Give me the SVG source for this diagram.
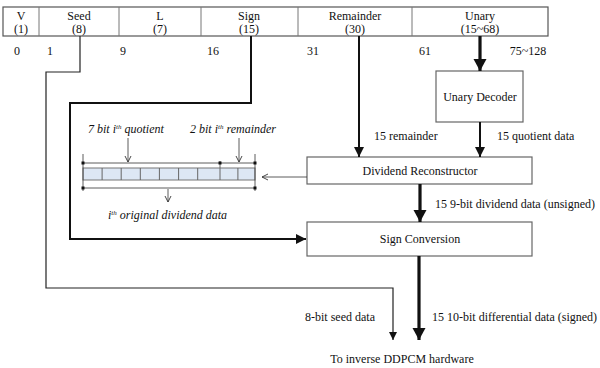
<svg xmlns="http://www.w3.org/2000/svg" width="600" height="368" viewBox="0 0 600 368">
  <style>
    text { font-family: "Liberation Serif", "Times New Roman", "DejaVu Serif", serif; font-size: 12px; fill: #111; }
    .c { text-anchor: middle; }
    .it { font-style: italic; }
    .sup { font-size: 7px; font-style: italic; }
    .box { fill: #fff; stroke: #666; stroke-width: 1.2; }
    .cell { fill: none; stroke: #666; stroke-width: 1; }
    .w1 { fill: none; stroke: #222; stroke-width: 1.2; }
    .w2 { fill: none; stroke: #111; stroke-width: 2; }
    .w3 { fill: none; stroke: #111; stroke-width: 3.2; }
    .thin { fill: none; stroke: #333; stroke-width: 0.8; }
  </style>
  <defs>
    <marker id="aSmall" markerUnits="userSpaceOnUse" markerWidth="9" markerHeight="9" refX="8" refY="4.5" orient="auto">
      <path d="M0,0.5 L8,4.5 L0,8.5 Z" fill="#111"/>
    </marker>
    <marker id="aMid" markerUnits="userSpaceOnUse" markerWidth="11" markerHeight="11" refX="10" refY="5.5" orient="auto">
      <path d="M0,0.5 L10,5.5 L0,10.5 Z" fill="#111"/>
    </marker>
    <marker id="aBig" markerUnits="userSpaceOnUse" markerWidth="13" markerHeight="14" refX="12" refY="7" orient="auto">
      <path d="M0,0.5 L12,7 L0,13.5 Z" fill="#111"/>
    </marker>
    <marker id="aTiny" markerUnits="userSpaceOnUse" markerWidth="8" markerHeight="8" refX="6" refY="4" orient="auto">
      <path d="M0,1 L6,4 L0,7" fill="none" stroke="#333" stroke-width="0.9"/>
    </marker>
    <marker id="dot" markerUnits="userSpaceOnUse" markerWidth="4" markerHeight="4" refX="2" refY="2">
      <rect x="0.5" y="0.5" width="3" height="3" fill="#111"/>
    </marker>
  </defs>

  <!-- Bit-field header -->
  <g id="header">
    <rect x="3" y="7" width="545" height="29" fill="#fff" stroke="#555" stroke-width="1.2"/>
    <g stroke="#777" stroke-width="1">
      <line x1="39" y1="7" x2="39" y2="36"/>
      <line x1="119" y1="7" x2="119" y2="36"/>
      <line x1="201" y1="7" x2="201" y2="36"/>
      <line x1="298" y1="7" x2="298" y2="36"/>
      <line x1="412" y1="7" x2="412" y2="36"/>
    </g>
    <text class="c" x="21" y="20">V</text><text class="c" x="21" y="33">(1)</text>
    <text class="c" x="79" y="20">Seed</text><text class="c" x="79" y="33">(8)</text>
    <text class="c" x="160" y="20">L</text><text class="c" x="160" y="33">(7)</text>
    <text class="c" x="249" y="20">Sign</text><text class="c" x="249" y="33">(15)</text>
    <text class="c" x="355" y="20">Remainder</text><text class="c" x="355" y="33">(30)</text>
    <text class="c" x="480" y="20">Unary</text><text class="c" x="480" y="33">(15~68)</text>
    <text class="c" x="17" y="55">0</text>
    <text class="c" x="50" y="55">1</text>
    <text class="c" x="123" y="55">9</text>
    <text class="c" x="213" y="55">16</text>
    <text class="c" x="313" y="55">31</text>
    <text class="c" x="425" y="55">61</text>
    <text class="c" x="528" y="55">75~128</text>
  </g>

  <!-- Processing blocks -->
  <g id="unary-decoder">
    <rect class="box" x="436" y="71" width="87" height="51"/>
    <text class="c" x="480" y="101">Unary Decoder</text>
  </g>
  <g id="dividend-reconstructor">
    <rect class="box" x="307" y="157" width="225" height="27"/>
    <text class="c" x="420" y="175">Dividend Reconstructor</text>
  </g>
  <g id="sign-conversion">
    <rect class="box" x="307" y="222" width="225" height="34"/>
    <text class="c" x="420" y="243">Sign Conversion</text>
  </g>

  <!-- Dividend word layout -->
  <g id="dividend-layout">
    <rect x="83" y="168" width="172" height="12" fill="#dde7f4" stroke="#777" stroke-width="1"/>
    <g class="cell">
      <line x1="102.1" y1="168" x2="102.1" y2="180"/>
      <line x1="121.2" y1="168" x2="121.2" y2="180"/>
      <line x1="140.3" y1="168" x2="140.3" y2="180"/>
      <line x1="159.4" y1="168" x2="159.4" y2="180"/>
      <line x1="178.6" y1="168" x2="178.6" y2="180"/>
      <line x1="197.7" y1="168" x2="197.7" y2="180"/>
      <line x1="220" y1="161" x2="220" y2="180"/>
      <line x1="237.9" y1="168" x2="237.9" y2="180"/>
    </g>
    <g class="thin">
      <line x1="83" y1="154" x2="83" y2="191"/>
      <line x1="255" y1="154" x2="255" y2="191"/>
      <line x1="83" y1="163" x2="255" y2="163" marker-start="url(#dot)" marker-end="url(#dot)"/>
      <line x1="220" y1="163" x2="220" y2="163" marker-start="url(#dot)"/>
      <line x1="83" y1="188" x2="255" y2="188" marker-start="url(#dot)" marker-end="url(#dot)"/>
      <line x1="128" y1="138" x2="128" y2="162" marker-end="url(#aTiny)"/>
      <line x1="239" y1="138" x2="239" y2="162" marker-end="url(#aTiny)"/>
      <line x1="168" y1="189" x2="168" y2="202" marker-end="url(#aTiny)"/>
    </g>
    <text class="it" x="88" y="133">7 bit i<tspan class="sup" dy="-4">th</tspan><tspan dy="4"> quotient</tspan></text>
    <text class="it" x="190" y="133">2 bit i<tspan class="sup" dy="-4">th</tspan><tspan dy="4"> remainder</tspan></text>
    <text class="it" x="108" y="219">i<tspan class="sup" dy="-4">th</tspan><tspan dy="4"> original dividend data</tspan></text>
  </g>

  <!-- Connectors -->
  <g id="connectors">
    <!-- seed field straight to output -->
    <path class="w1" d="M80,36 V72 H46 V288 H393 V340" marker-end="url(#aSmall)"/>
    <!-- sign field to sign conversion -->
    <path class="w2" d="M251,36 V103 H70 V239 H306" marker-end="url(#aMid)"/>
    <!-- remainder field -->
    <path class="w2" d="M359,36 V157" marker-end="url(#aMid)"/>
    <!-- unary field -->
    <path class="w3" d="M480,36 V71" marker-end="url(#aBig)"/>
    <path class="w2" d="M480,122 V157" marker-end="url(#aMid)"/>
    <path class="w3" d="M420,184 V222" marker-end="url(#aBig)"/>
    <path class="w3" d="M419,256 V340" marker-end="url(#aBig)"/>
    <!-- reconstructed word shown at left -->
    <path class="thin" d="M307,177 H262" marker-end="url(#aTiny)"/>
  </g>

  <!-- Connector labels -->
  <g id="labels">
    <text x="374" y="140">15 remainder</text>
    <text x="497" y="140">15 quotient data</text>
    <text x="435" y="208">15 9-bit dividend data (unsigned)</text>
    <text x="305" y="321">8-bit seed data</text>
    <text x="432" y="321">15 10-bit differential data (signed)</text>
    <text class="c" x="402" y="363">To inverse DDPCM hardware</text>
  </g>
</svg>
